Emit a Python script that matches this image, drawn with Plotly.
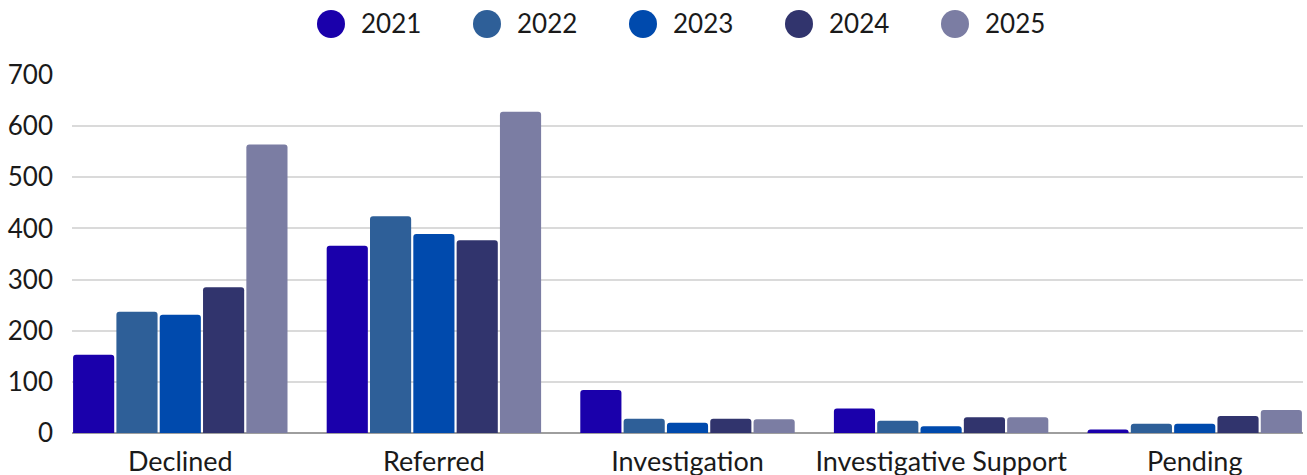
import plotly.graph_objects as go

categories = ["Declined", "Referred", "Investigation", "Investigative Support", "Pending"]
years = ["2021", "2022", "2023", "2024", "2025"]
values_2021 = [153, 366, 84, 48, 7]
values_2022 = [237, 424, 28, 24, 18]
values_2023 = [231, 389, 20, 13, 18]
values_2024 = [285, 377, 28, 31, 33]
values_2025 = [564, 628, 27, 31, 45]
series = [values_2021, values_2022, values_2023, values_2024, values_2025]
colors = ["#1a00ab", "#2e5f98", "#004aad", "#31346d", "#7b7da3"]
y_ticks = [0, 100, 200, 300, 400, 500, 600, 700]

FONT = "Lato"
W, H = 1307, 475
ML, MR, MT, MB = 72, 4, 75, 42

fig = go.Figure()
for name, vals, col in zip(years, series, colors):
    fig.add_trace(go.Bar(x=categories, y=vals, name=name, marker_color=col,
                         marker_line_width=0, showlegend=False))

# custom legend with large circles
plot_w = W - ML - MR
plot_h = H - MT - MB
shapes = []
annotations = []
legend_start, legend_step, legend_y = 331, 156, 24
for i, (name, col) in enumerate(zip(years, colors)):
    cx = legend_start + i * legend_step
    xp = (cx - ML) / plot_w
    yp = (H - MB - legend_y) / plot_h
    shapes.append(dict(type="circle", xref="paper", yref="paper",
                       xsizemode="pixel", ysizemode="pixel",
                       xanchor=xp, yanchor=yp, x0=-14, x1=14, y0=-14, y1=14,
                       fillcolor=col, line_width=0))
    annotations.append(dict(text=name, xref="paper", yref="paper",
                            x=(cx + 28 - ML) / plot_w, y=(H - MB - 23) / plot_h,
                            xanchor="left", yanchor="middle", showarrow=False,
                            font=dict(family=FONT, size=26, color="#1a1a1a")))

fig.update_layout(
    width=W, height=H,
    margin=dict(l=ML, r=MR, t=MT, b=MB, autoexpand=False),
    paper_bgcolor="white", plot_bgcolor="white",
    barmode="group", bargap=0.146, bargroupgap=0.05, barcornerradius=3,
    font=dict(family=FONT, size=26, color="#1a1a1a"),
    shapes=shapes, annotations=annotations,
    showlegend=False,
)
fig.update_xaxes(range=[-0.427, 4.427], showgrid=False, ticks="", showline=False,
                 ticklabelstandoff=10, automargin=False,
                 tickfont=dict(family=FONT, size=27, color="#1a1a1a"))
fig.update_yaxes(range=[0, 700], tickvals=y_ticks, showgrid=True, gridcolor="#dadada",
                 gridwidth=1.5, zeroline=True, zerolinecolor="#9e9e9e", zerolinewidth=2,
                 ticks="", ticklabelstandoff=18, automargin=False,
                 tickfont=dict(family=FONT, size=26, color="#1a1a1a"))

fig.write_html("out.html")
